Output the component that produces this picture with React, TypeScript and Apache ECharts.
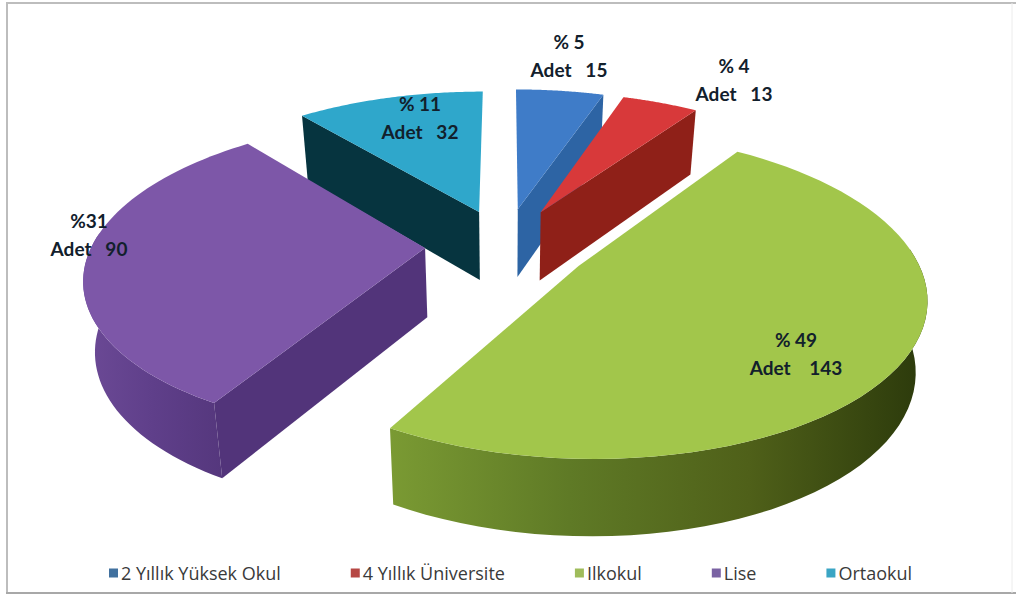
import React, { useEffect, useRef } from "react";
import * as echarts from "echarts";

const categories = ["2 Yıllık Yüksek Okul", "4 Yıllık Üniversite", "Ilkokul", "Lise", "Ortaokul"];
const values = [15, 13, 143, 90, 32];
const percentLabels = ["% 5", "% 4", "% 49", "%31", "% 11"];
const countLabels = ["Adet   15", "Adet   13", "Adet    143", "Adet   90", "Adet   32"];
const topColors = ["#3f7cc8", "#d8393a", "#a2c64b", "#7d57a8", "#2fa7cb"];
const legendColors = ["#41719f", "#b64744", "#9fbc5b", "#7a62a3", "#3aa5c4"];
const wallColors = ["#2d64a4", "#8f2018", "#5a6f22", "#52347a", "#06343f"];
const rimStops: string[][] = [
  ["#2d64a4", "#2d64a4"],
  ["#8f2018", "#8f2018"],
  ["#7a9a33", "#5f7a26", "#4f6019", "#2b390b"],
  ["#6c4a96", "#5f3f8a", "#55377d"],
  ["#06343f", "#06343f"],
];
const explode = [0.25, 0.25, 0.255, 0.24, 0.24];
const labelAnchors = [[569, 55], [734, 79], [796, 353], [89, 234], [420, 117]];
const zOrder = [1, 3, 5, 4, 2];

const view = { cx: 505, cy: 245, radius: 333, persp: 0.172, tilt: 0.455, depthBase: 36, depthRate: 0.1, shrink: 0.972 };

const total = values.reduce((a, b) => a + b, 0);

function project(X: number, Y: number): [number, number, number] {
  const rs = view.radius / (1 + view.persp * Y);
  return [view.cx + X * rs, view.cy - view.tilt * rs * Y, rs];
}

function sliceShapes(i: number) {
  const before = values.slice(0, i).reduce((a, b) => a + b, 0);
  const a0 = (before / total) * Math.PI * 2;
  const a1 = ((before + values[i]) / total) * Math.PI * 2;
  const mid = (a0 + a1) / 2;
  const ox = explode[i] * Math.sin(mid);
  const oy = explode[i] * Math.cos(mid);
  const top = (X: number, Y: number): number[] => project(X, Y).slice(0, 2);
  const bottom = (X: number, Y: number): number[] => {
    const [x, y, rs] = project(X, Y);
    return [view.cx + (x - view.cx) * view.shrink, y + view.depthBase + view.depthRate * rs];
  };
  const steps = 64;
  const rim: number[][] = [];
  const frontRim: number[][] = [];
  for (let s = 0; s <= steps; s++) {
    const a = a0 + ((a1 - a0) * s) / steps;
    const p = [ox + Math.sin(a), oy + Math.cos(a)];
    rim.push(p);
    if (Math.cos(a) < 0.12) frontRim.push(p);
  }
  const topRim = rim.map(([x, y]) => top(x, y));
  const wall = (p: number[]) => [top(ox, oy), top(p[0], p[1]), bottom(p[0], p[1]), bottom(ox, oy)];
  const walls: number[][][] = [];
  if (Math.sin(a0) < -1e-6) walls.push(wall(rim[0]));
  if (Math.sin(a1) > 1e-6) walls.push(wall(rim[steps]));
  return {
    face: [top(ox, oy), ...topRim],
    outer: [
      ...frontRim.map(([x, y]) => top(x, y)),
      ...frontRim.map(([x, y]) => bottom(x, y)).reverse(),
    ],
    walls,
  };
}

function makeRenderItem(i: number) {
  return () => {
    const s = sliceShapes(i);
    const stops = rimStops[i];
    const rimFill = new echarts.graphic.LinearGradient(
      0, 0, 1, 0,
      stops.map((color, k) => ({ offset: k / (stops.length - 1), color })),
    );
    return {
      type: "group",
      children: [
        ...(s.outer.length > 2
          ? [{ type: "polygon", shape: { points: s.outer }, style: { fill: rimFill } }]
          : []),
        ...s.walls.map((pts) => ({ type: "polygon", shape: { points: pts }, style: { fill: wallColors[i] } })),
        { type: "polygon", shape: { points: s.face }, style: { fill: topColors[i] } },
        {
          type: "text",
          x: labelAnchors[i][0],
          y: labelAnchors[i][1],
          style: {
            text: percentLabels[i] + "\n" + countLabels[i],
            fontFamily: "Lato",
            fontWeight: "bold",
            fontSize: 19,
            lineHeight: 28,
            fill: "#12202c",
            align: "center",
            verticalAlign: "middle",
          },
        },
      ],
    };
  };
}

export default function App() {
  const ref = useRef<HTMLDivElement>(null);
  useEffect(() => {
    const chart = echarts.init(ref.current!, undefined, { renderer: "svg" });
    chart.setOption({
      animation: false,
      backgroundColor: "#ffffff",
      legend: {
        left: 104,
        top: 559,
        icon: "rect",
        itemWidth: 9,
        itemHeight: 9,
        itemGap: 70,
        data: categories,
        textStyle: { fontFamily: "Open Sans", fontSize: 18, color: "#3a3a3a", padding: [0, 0, 0, -2] },
      },
      graphic: [
        { type: "line", shape: { x1: 6, y1: 3, x2: 1016, y2: 3 }, style: { stroke: "#bdbdbd", lineWidth: 2 }, silent: true },
        { type: "line", shape: { x1: 7, y1: 3, x2: 7, y2: 593 }, style: { stroke: "#bdbdbd", lineWidth: 2 }, silent: true },
        { type: "line", shape: { x1: 6, y1: 593, x2: 1016, y2: 593 }, style: { stroke: "#a8a8a8", lineWidth: 2 }, silent: true },
        { type: "line", shape: { x1: 1012, y1: 3, x2: 1012, y2: 593 }, style: { stroke: "#ececec", lineWidth: 1 }, silent: true },
      ],
      series: categories.map((name, i) => ({
        type: "custom",
        name,
        coordinateSystem: "none",
        z: zOrder[i],
        silent: true,
        itemStyle: { color: legendColors[i] },
        renderItem: makeRenderItem(i),
        data: [[values[i]]],
      })),
    });
    return () => chart.dispose();
  }, []);
  return <div ref={ref} style={{ position: "absolute", left: 0, top: 0, width: 1021, height: 596 }} />;
}
